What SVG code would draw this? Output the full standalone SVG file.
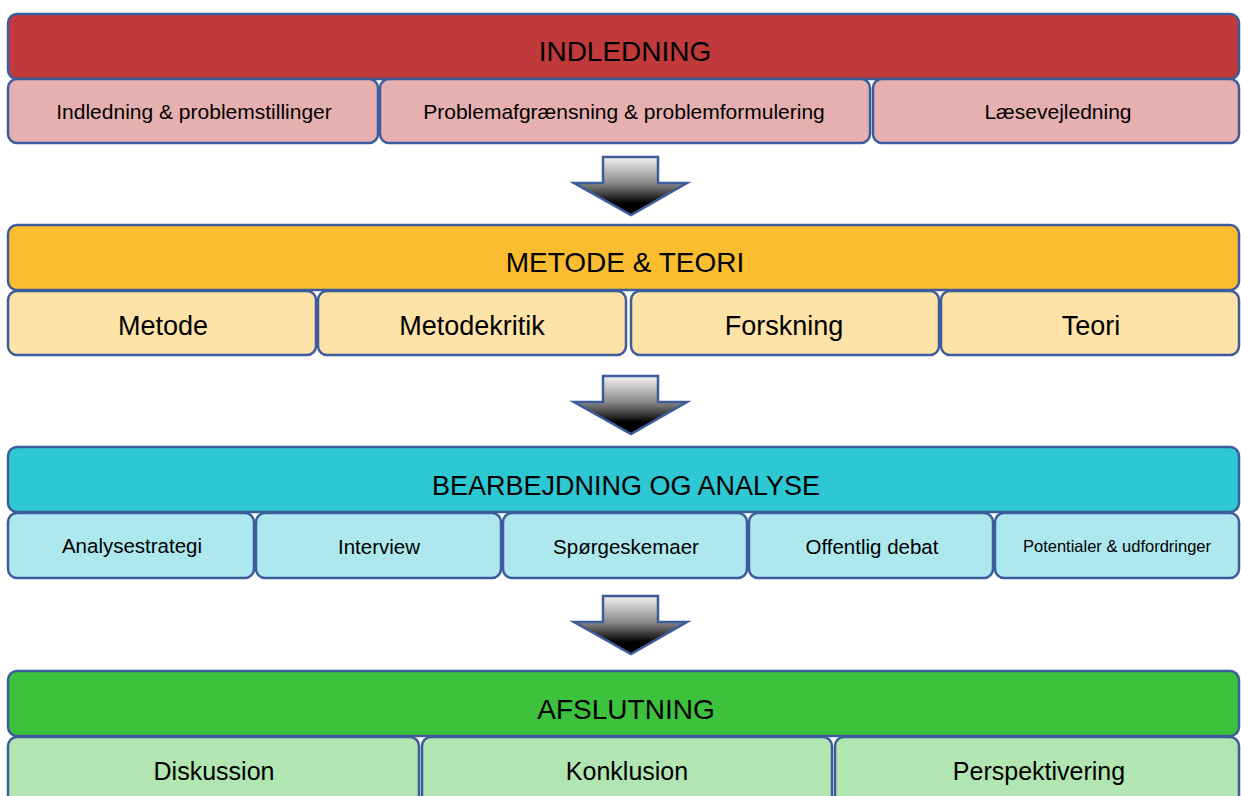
<svg xmlns="http://www.w3.org/2000/svg" width="1241" height="796" viewBox="0 0 1241 796">
<defs>
<linearGradient id="ag" x1="0" y1="0" x2="0" y2="1">
<stop offset="0" stop-color="#f2f2f2"/>
<stop offset="0.45" stop-color="#8a8a8a"/>
<stop offset="0.8" stop-color="#000"/>
<stop offset="1" stop-color="#000"/>
</linearGradient>
<polygon id="arrow" points="603,0 658,0 658,26 687,26 631,58 574,26 603,26"/>
</defs>
<style>
rect{stroke:#3d5c9b;stroke-width:2.5}
text{font-family:"Liberation Sans",Arial,sans-serif;fill:#000;text-anchor:middle}
.h{font-size:28px}
.s1{font-size:21px}
.s2{font-size:27px}
.s3{font-size:20.5px}
.s4{font-size:25px}
.r1{fill:#c0393b}.r2{fill:#e6b0b1}
.o1{fill:#fbbd30}.o2{fill:#fde3a7}
.t1{fill:#2ec8d5}.t2{fill:#ade8ee}
.g1{fill:#3cc23d}.g2{fill:#b1e5b1}
.arr{fill:url(#ag);stroke:#3d5c9b;stroke-width:2.5}
</style>
<rect width="1241" height="796" fill="#fff" style="stroke:none"/>

<g id="indledning">
<rect class="r1" x="8" y="14" width="1231" height="65" rx="9"/>
<text class="h" x="625" y="61">INDLEDNING</text>
</g>
<g id="indledning-problemstillinger">
<rect class="r2" x="8" y="79" width="370" height="64" rx="9"/>
<text class="s1" x="194" y="119">Indledning &amp; problemstillinger</text>
</g>
<g id="problemafgraensning">
<rect class="r2" x="380" y="79" width="490" height="64" rx="9"/>
<text class="s1" x="624" y="119">Problemafgrænsning &amp; problemformulering</text>
</g>
<g id="laesevejledning">
<rect class="r2" x="873" y="79" width="366" height="64" rx="9"/>
<text class="s1" x="1058" y="119">Læsevejledning</text>
</g>

<g id="metode-teori">
<rect class="o1" x="8" y="225" width="1231" height="65" rx="9"/>
<text class="h" x="625" y="272">METODE &amp; TEORI</text>
</g>
<g id="metode">
<rect class="o2" x="8" y="291" width="308" height="64" rx="9"/>
<text class="s2" x="163" y="335">Metode</text>
</g>
<g id="metodekritik">
<rect class="o2" x="318" y="291" width="308" height="64" rx="9"/>
<text class="s2" x="472" y="335">Metodekritik</text>
</g>
<g id="forskning">
<rect class="o2" x="631" y="291" width="308" height="64" rx="9"/>
<text class="s2" x="784" y="335">Forskning</text>
</g>
<g id="teori">
<rect class="o2" x="941" y="291" width="298" height="64" rx="9"/>
<text class="s2" x="1091" y="335">Teori</text>
</g>

<g id="bearbejdning">
<rect class="t1" x="8" y="447" width="1231" height="65" rx="9"/>
<text class="h" x="626" y="495" style="font-size:27px">BEARBEJDNING OG ANALYSE</text>
</g>
<g id="analysestrategi">
<rect class="t2" x="8" y="513" width="246" height="65" rx="9"/>
<text class="s3" x="132" y="553">Analysestrategi</text>
</g>
<g id="interview">
<rect class="t2" x="256" y="513" width="245" height="65" rx="9"/>
<text class="s3" x="379" y="554">Interview</text>
</g>
<g id="spoergeskemaer">
<rect class="t2" x="503" y="513" width="244" height="65" rx="9"/>
<text class="s3" x="626" y="554">Spørgeskemaer</text>
</g>
<g id="offentlig-debat">
<rect class="t2" x="749" y="513" width="244" height="65" rx="9"/>
<text class="s3" x="872" y="554">Offentlig debat</text>
</g>
<g id="potentialer">
<rect class="t2" x="995" y="513" width="244" height="65" rx="9"/>
<text x="1117" y="552" style="font-size:16.5px">Potentialer &amp; udfordringer</text>
</g>

<g id="afslutning">
<rect class="g1" x="8" y="671" width="1231" height="65" rx="9"/>
<text class="h" x="626" y="719">AFSLUTNING</text>
</g>
<g id="diskussion">
<rect class="g2" x="8" y="737" width="411" height="70" rx="9"/>
<text class="s4" x="214" y="780">Diskussion</text>
</g>
<g id="konklusion">
<rect class="g2" x="422" y="737" width="410" height="70" rx="9"/>
<text class="s4" x="627" y="780">Konklusion</text>
</g>
<g id="perspektivering">
<rect class="g2" x="835" y="737" width="404" height="70" rx="9"/>
<text class="s4" x="1039" y="780">Perspektivering</text>
</g>

<g id="connectors">
<use href="#arrow" class="arr" y="157"/>
<use href="#arrow" class="arr" y="376"/>
<use href="#arrow" class="arr" y="596"/>
</g>
</svg>
